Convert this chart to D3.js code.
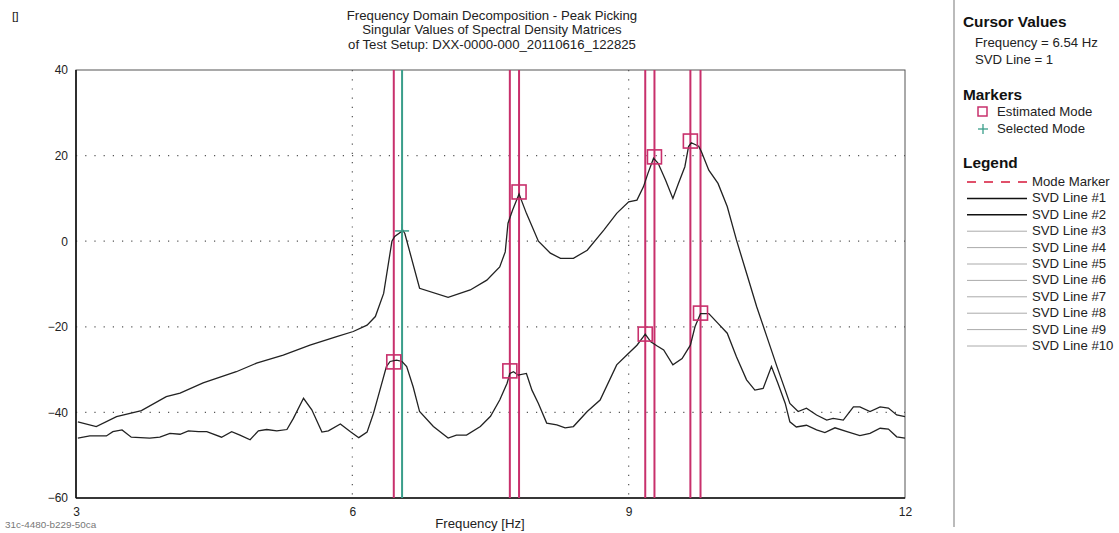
<!DOCTYPE html>
<html><head><meta charset="utf-8">
<script src="https://cdn.jsdelivr.net/npm/d3@7"></script>
<style>
body{margin:0;background:#fff;}
text{font-family:Arial,"Liberation Sans",sans-serif;}
</style></head>
<body><svg id="c" width="1119" height="533"></svg>
<script>
const titleLines = ["Frequency Domain Decomposition - Peak Picking","Singular Values of Spectral Density Matrices","of Test Setup: DXX-0000-000_20110616_122825"];
const xTicks = [3,6,9,12];
const yTicks = [40,20,0,-20,-40,-60];
const svd1Freq = [3.02,3.22,3.44,3.71,3.98,4.13,4.38,4.74,4.96,5.25,5.54,5.83,6.01,6.16,6.25,6.34,6.43,6.46,6.55,6.57,6.73,7.04,7.28,7.46,7.60,7.66,7.69,7.74,7.81,7.89,8.02,8.15,8.26,8.40,8.55,8.73,8.87,9.00,9.09,9.16,9.21,9.27,9.32,9.40,9.48,9.54,9.61,9.65,9.68,9.76,9.79,9.87,9.97,10.07,10.17,10.28,10.39,10.50,10.61,10.70,10.75,10.84,10.93,11.04,11.15,11.22,11.33,11.44,11.51,11.62,11.73,11.82,11.91,12.0];
const svd1Val = [-42.2,-43.3,-41,-39.6,-36.3,-35.5,-33.1,-30.5,-28.5,-26.6,-24.3,-22.3,-21.1,-19.6,-17.6,-12.2,0,1.1,2.5,1.8,-11,-13.1,-11.4,-9.1,-6,-2.5,4.2,7.3,11,6.5,0,-2.8,-4,-4,-2.1,2.6,6.5,9.2,9.6,12.7,15.9,19.4,18.2,14.3,10,13.5,17.4,22.1,23,22.2,20.9,16.6,13.5,8.1,0.3,-7.5,-15.3,-22.3,-29.3,-34.8,-37.9,-39.8,-39,-40.6,-41.8,-41.4,-41.8,-38.7,-38.7,-39.8,-38.7,-39,-40.6,-41];
const svd2Freq = [3.02,3.15,3.33,3.40,3.50,3.60,3.80,3.91,4.02,4.13,4.22,4.33,4.42,4.58,4.69,4.78,4.89,4.98,5.07,5.18,5.29,5.36,5.47,5.56,5.67,5.74,5.87,5.98,6.07,6.16,6.23,6.28,6.37,6.41,6.48,6.54,6.59,6.66,6.73,6.88,7.04,7.13,7.24,7.39,7.50,7.60,7.68,7.71,7.75,7.80,7.89,7.95,8.02,8.11,8.22,8.31,8.40,8.55,8.69,8.87,8.98,9.09,9.16,9.18,9.24,9.31,9.38,9.48,9.58,9.67,9.72,9.78,9.87,9.97,10.07,10.17,10.28,10.37,10.46,10.55,10.62,10.70,10.75,10.82,10.93,11.04,11.13,11.24,11.37,11.51,11.62,11.73,11.82,11.91,12.0];
const svd2Val = [-46,-45.5,-45.5,-44.5,-44.1,-45.8,-46,-45.8,-44.9,-45.1,-44.3,-44.5,-44.5,-45.8,-44.5,-45.3,-46.4,-44.3,-44,-44.3,-44,-41.4,-36.7,-39.4,-44.6,-44.3,-42.7,-44.5,-45.9,-44.6,-40.2,-36.3,-29.3,-28.1,-27.8,-28.1,-29.3,-34,-39.8,-43.3,-46,-45.3,-45.3,-43.3,-40.9,-37.1,-33.2,-30.9,-30.5,-31.3,-30.9,-34.8,-37.9,-42.5,-42.9,-43.6,-43.3,-39.8,-37.1,-28.9,-26.6,-24.3,-22.3,-21.7,-23.5,-24.5,-25.4,-28.9,-27.4,-24.3,-20,-16.9,-16.9,-19.2,-21.5,-27,-32.4,-34.8,-34.4,-29.3,-33.2,-37.9,-42.2,-43.4,-43,-44.1,-44.7,-43.6,-44.5,-45.4,-44.9,-43.7,-43.9,-45.7,-46];
const estModeFreq = [6.45,7.71,7.81,9.18,9.28,9.67,9.78];
const estModeVal = [-28.2,-30.3,11.5,-21.7,19.7,23.4,-16.8];
const selModeFreq = [6.54];
const selModeVal = [2.4];
const legendLabels = ["Mode Marker","SVD Line #1","SVD Line #2","SVD Line #3","SVD Line #4","SVD Line #5","SVD Line #6","SVD Line #7","SVD Line #8","SVD Line #9","SVD Line #10"];

const svg = d3.select("#c");
const M = {l:76, r:905, t:70, b:498};
const x = d3.scaleLinear().domain([3,12]).range([M.l,M.r]);
const y = d3.scaleLinear().domain([-60,40]).range([M.b,M.t]);
const magenta = "#c8306c", teal = "#3a9e8a";
const SX = 1.1;
function txt(parent, px, py, s, o){
  o = o||{};
  const t = parent.append("text").attr("transform",`translate(${px},${py}) scale(${SX},1)`)
    .attr("font-size",o.size||12).attr("fill",o.fill||"#222").text(s);
  if(o.anchor) t.attr("text-anchor",o.anchor);
  if(o.bold) t.attr("font-weight","bold");
  return t;
}

// title
txt(svg,12,20,"[]",{size:11});
titleLines.forEach((t,i)=>txt(svg,492,20+i*14.3,t,{anchor:"middle",size:12}));

// grid
const g = svg.append("g");
g.selectAll(".gx").data(xTicks.filter(d=>d>3&&d<12)).enter().append("line")
 .attr("x1",d=>x(d)).attr("x2",d=>x(d)).attr("y1",M.t).attr("y2",M.b)
 .attr("stroke","#555").attr("stroke-width",1.2).attr("stroke-dasharray","1.2,8");
g.selectAll(".gy").data(yTicks.filter(d=>d>-60&&d<40)).enter().append("line")
 .attr("y1",d=>y(d)).attr("y2",d=>y(d)).attr("x1",M.l).attr("x2",M.r)
 .attr("stroke","#555").attr("stroke-width",1.2).attr("stroke-dasharray","1.2,8");

// frame
svg.append("rect").attr("x",M.l).attr("y",M.t).attr("width",M.r-M.l).attr("height",M.b-M.t).attr("fill","none").attr("stroke","#555").attr("stroke-width",1);
svg.append("line").attr("x1",M.l).attr("x2",M.l).attr("y1",M.t).attr("y2",M.b).attr("stroke","#111").attr("stroke-width",1.6);
svg.append("line").attr("x1",M.l).attr("x2",M.r).attr("y1",M.b).attr("y2",M.b).attr("stroke","#111").attr("stroke-width",1.6);

// axes labels via d3 axes
const xa = svg.append("g").attr("transform",`translate(0,${M.b})`).call(d3.axisBottom(x).tickValues(xTicks).tickSize(0).tickPadding(9));
xa.select(".domain").remove();
xa.selectAll("text").attr("font-size",12).attr("fill","#222").attr("font-family","Arial, Liberation Sans, sans-serif");
const ya = svg.append("g").attr("transform",`translate(${M.l},0)`).call(d3.axisLeft(y).tickValues(yTicks).tickSize(0).tickPadding(8));
ya.select(".domain").remove();
ya.selectAll("text").attr("font-size",12).attr("fill","#222").attr("font-family","Arial, Liberation Sans, sans-serif");
txt(svg,480,528,"Frequency [Hz]",{anchor:"middle",size:12});
txt(svg,5,528,"31c-4480-b229-50ca",{size:9,fill:"#777"});

// mode marker lines
svg.selectAll(".mm").data(estModeFreq).enter().append("line")
 .attr("x1",d=>x(d)).attr("x2",d=>x(d)).attr("y1",M.t).attr("y2",M.b)
 .attr("stroke",magenta).attr("stroke-width",2);
svg.selectAll(".sm").data(selModeFreq).enter().append("line")
 .attr("x1",d=>x(d)).attr("x2",d=>x(d)).attr("y1",M.t).attr("y2",M.b)
 .attr("stroke",teal).attr("stroke-width",2);

// svd lines
const line = d3.line().x(d=>x(d[0])).y(d=>y(d[1]));
[[svd1Freq,svd1Val],[svd2Freq,svd2Val]].forEach(([f,v])=>{
  svg.append("path").datum(f.map((d,i)=>[d,v[i]])).attr("d",line).attr("fill","none").attr("stroke","#222").attr("stroke-width",1.3);
});

// estimated mode squares
svg.selectAll(".sq").data(estModeFreq.map((d,i)=>[d,estModeVal[i]])).enter().append("rect")
 .attr("x",d=>x(d[0])-7).attr("y",d=>y(d[1])-7).attr("width",14).attr("height",14)
 .attr("fill","none").attr("stroke",magenta).attr("stroke-width",1.6);
// selected mode plus
selModeFreq.forEach((f,i)=>{
  const cx=x(f), cy=y(selModeVal[i]);
  svg.append("line").attr("x1",cx-7).attr("x2",cx+7).attr("y1",cy).attr("y2",cy).attr("stroke",teal).attr("stroke-width",1.5);
  svg.append("line").attr("x1",cx).attr("x2",cx).attr("y1",cy-7).attr("y2",cy+7).attr("stroke",teal).attr("stroke-width",1.5);
});

// right panel
svg.append("line").attr("x1",954).attr("x2",954).attr("y1",0).attr("y2",527).attr("stroke","#bbb").attr("stroke-width",2);
const p = svg.append("g");
txt(p,963,27,"Cursor Values",{size:14,bold:true,fill:"#111"});
txt(p,975,47,"Frequency = "+selModeFreq[0].toFixed(2)+" Hz");
txt(p,975,64,"SVD Line = 1");
txt(p,963,100,"Markers",{size:14,bold:true,fill:"#111"});
p.append("rect").attr("x",978).attr("y",107).attr("width",9).attr("height",9).attr("fill","none").attr("stroke",magenta).attr("stroke-width",1.5);
txt(p,997,116,"Estimated Mode");
p.append("line").attr("x1",978).attr("x2",988).attr("y1",129).attr("y2",129).attr("stroke",teal).attr("stroke-width",1.3);
p.append("line").attr("x1",983).attr("x2",983).attr("y1",124).attr("y2",134).attr("stroke",teal).attr("stroke-width",1.3);
txt(p,997,133,"Selected Mode");
txt(p,963,168,"Legend",{size:14,bold:true,fill:"#111"});
legendLabels.forEach((t,i)=>{
  const yy = 182 + i*16.4;
  const ln = p.append("line").attr("x1",967).attr("x2",1027).attr("y1",yy).attr("y2",yy);
  if(i===0) ln.attr("stroke","#e0506a").attr("stroke-width",1.8).attr("stroke-dasharray","9,8");
  else if(i<=2) ln.attr("stroke","#111").attr("stroke-width",1.5);
  else ln.attr("stroke","#aaa").attr("stroke-width",1);
  txt(p,1032,yy+4,t);
});
</script></body></html>
